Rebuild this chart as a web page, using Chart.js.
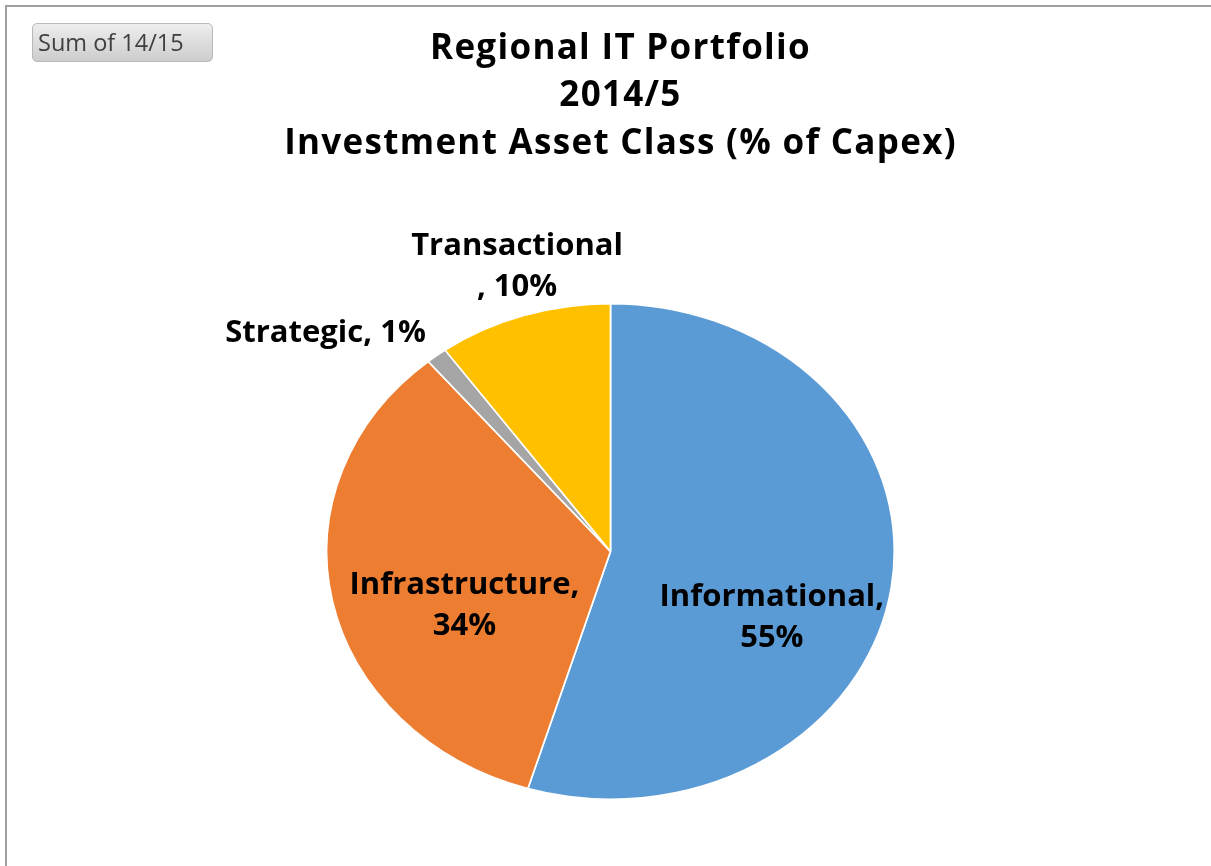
<!DOCTYPE html>
<html>
<head>
<meta charset="utf-8">
<script src="https://cdn.jsdelivr.net/npm/chart.js@4"></script>
<style>
  body { margin: 0; background: #fff; }
  #wrap { position: relative; width: 1211px; height: 866px; overflow: hidden; }
  #frame { position: absolute; left: 5px; top: 5px; width: 1220px; height: 880px;
           border-top: 2px solid #a0a0a0; border-left: 2px solid #a0a0a0; }
  #btn { position: absolute; left: 32px; top: 23px; width: 181px; height: 39px;
         border: 1px solid #b8b8b8; border-radius: 5px;
         background: linear-gradient(#ededed, #cdcdcd);
         font: 23.5px "Open Sans", sans-serif; color: #404040; line-height: 37px; padding-left: 5px; box-sizing: border-box; }
  canvas { position: absolute; left: 0; top: 0; }
</style>
</head>
<body>
<div id="wrap">
  <div id="frame"></div>
  <canvas id="myChart" width="1211" height="866"></canvas>
  <div id="btn">Sum of 14/15</div>
</div>
<script>
const categories = ['Informational', 'Infrastructure', 'Strategic', 'Transactional'];
const shares = [54.7, 34.2, 1.2, 9.9];
const colors = ['#5B9BD5', '#ED7D31', '#A5A5A5', '#FFC000'];
const titleLines = ['Regional IT Portfolio', '2014/5', 'Investment Asset Class (% of Capex)'];

// the original pie is drawn a bit wider than tall
const stretchX = 1.1455;
// label text shifts from the slice centroid (px)
const labelNudge = [[21, 48], [-7, 29], [-198, -120], [-50, -167]];

function labelLines(i) {
  const pct = Math.round(shares[i]) + '%';
  if (i === 2) return [categories[i] + ', ' + pct];
  if (i === 3) return [categories[i], ', ' + pct];
  return [categories[i] + ',', pct];
}

// title sits a little right of the pie and looks wider in the original (Calibri)
const titleTweak = {
  id: 'titleTweak',
  beforeDraw(chart) {
    const ctx = chart.ctx;
    ctx.save();
    ctx.translate(10, 0);
    ctx.letterSpacing = '1.3px';
  }
};

const ellipsePlugin = {
  id: 'ellipse',
  beforeDatasetsDraw(chart) {
    const arc = chart.getDatasetMeta(0).data[0];
    const ctx = chart.ctx;
    ctx.restore();
    ctx.letterSpacing = '0px';
    ctx.save();
    ctx.translate(arc.x, arc.y);
    ctx.scale(stretchX, 1);
    ctx.translate(-arc.x, -arc.y);
  },
  afterDatasetsDraw(chart) {
    chart.ctx.restore();
  }
};

const labelPlugin = {
  id: 'sliceLabels',
  afterDraw(chart) {
    const ctx = chart.ctx;
    const arcs = chart.getDatasetMeta(0).data;
    ctx.save();
    ctx.letterSpacing = '0px';
    ctx.font = 'bold 31px "Open Sans", sans-serif';
    ctx.fillStyle = '#000';
    ctx.textAlign = 'center';
    ctx.textBaseline = 'middle';
    arcs.forEach((arc, i) => {
      const p = arc.tooltipPosition();
      const x = arc.x + (p.x - arc.x) * stretchX + labelNudge[i][0];
      const y = p.y + labelNudge[i][1];
      const lines = labelLines(i);
      const lh = 41;
      const y0 = y - (lines.length - 1) * lh / 2;
      lines.forEach((t, k) => ctx.fillText(t, x, y0 + k * lh));
    });
    ctx.restore();
  }
};

const ctx = document.getElementById('myChart').getContext('2d');

const config = {
  type: 'pie',
  data: {
    labels: categories,
    datasets: [{
      data: shares,
      backgroundColor: colors,
      borderColor: '#fff',
      borderWidth: 1.5
    }]
  },
  options: {
    responsive: false,
    animation: false,
    layout: { padding: { top: 0, bottom: 66, left: 10, right: 0 } },
    plugins: {
      legend: { display: false },
      tooltip: { enabled: false },
      title: {
        display: true,
        text: titleLines,
        color: '#000',
        font: { family: 'Open Sans', size: 35, weight: 'bold', lineHeight: 1.357 },
        padding: { top: 25, bottom: 135.5 }
      }
    }
  },
  plugins: [titleTweak, ellipsePlugin, labelPlugin]
};

const myChart = new Chart(ctx, config);
</script>
</body>
</html>
